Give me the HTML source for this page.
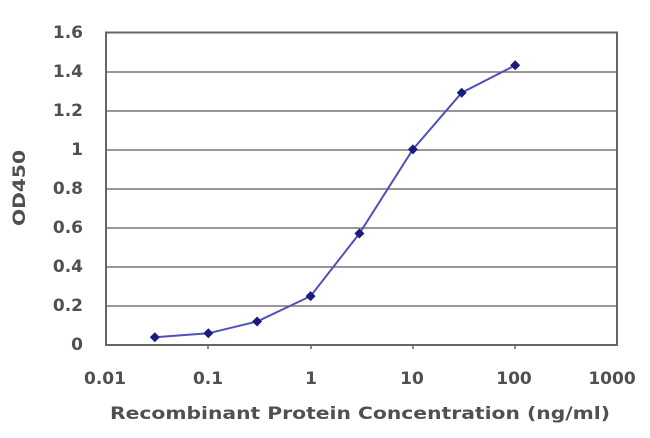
<!DOCTYPE html><html><head><style>body{margin:0;background:#fff}svg text{font-family:"DejaVu Sans","Liberation Sans",sans-serif;fill:#505050;font-size:17px;font-weight:bold}</style></head><body>
<svg width="650" height="433" xmlns="http://www.w3.org/2000/svg">
<g stroke="#777" stroke-width="1.5">
<line x1="106" y1="72" x2="617" y2="72"/><line x1="106" y1="111" x2="617" y2="111"/><line x1="106" y1="150" x2="617" y2="150"/><line x1="106" y1="189" x2="617" y2="189"/><line x1="106" y1="228" x2="617" y2="228"/><line x1="106" y1="267" x2="617" y2="267"/><line x1="106" y1="306" x2="617" y2="306"/>
</g>
<rect x="106" y="32.5" width="511" height="312.5" fill="none" stroke="#666" stroke-width="2"/>
<g stroke="#666" stroke-width="1.5"><line x1="208" y1="345" x2="208" y2="349"/><line x1="311" y1="345" x2="311" y2="349"/><line x1="413" y1="345" x2="413" y2="349"/><line x1="515" y1="345" x2="515" y2="349"/></g>
<polyline fill="none" stroke="#5050b8" stroke-width="2" points="154.8,337.2 208.3,333.3 257.1,321.5 310.6,296.1 359.4,233.5 412.9,149.4 461.7,92.7 515.2,65.3"/>
<g fill="#1a1a80">
<path d="M154.8,332.2l5,5-5,5-5-5z"/><path d="M208.3,328.3l5,5-5,5-5-5z"/><path d="M257.1,316.5l5,5-5,5-5-5z"/><path d="M310.6,291.1l5,5-5,5-5-5z"/><path d="M359.4,228.5l5,5-5,5-5-5z"/><path d="M412.9,144.4l5,5-5,5-5-5z"/><path d="M461.7,87.7l5,5-5,5-5-5z"/><path d="M515.2,60.3l5,5-5,5-5-5z"/>
</g>
<g text-anchor="end">
<text x="83" y="38">1.6</text><text x="83" y="77">1.4</text><text x="83" y="116">1.2</text><text x="83" y="155">1</text><text x="83" y="194">0.8</text><text x="83" y="233">0.6</text><text x="83" y="272">0.4</text><text x="83" y="311">0.2</text><text x="83" y="350">0</text>
</g>
<g text-anchor="middle">
<text x="105" y="384">0.01</text><text x="208" y="384">0.1</text><text x="311" y="384">1</text><text x="412" y="384">10</text><text x="514" y="384">100</text><text x="612" y="384">1000</text>
</g>
<text x="110" y="419" textLength="500" lengthAdjust="spacingAndGlyphs">Recombinant Protein Concentration (ng/ml)</text>
<text transform="translate(25,226) rotate(-90)" textLength="76" lengthAdjust="spacingAndGlyphs">OD450</text>
</svg></body></html>
